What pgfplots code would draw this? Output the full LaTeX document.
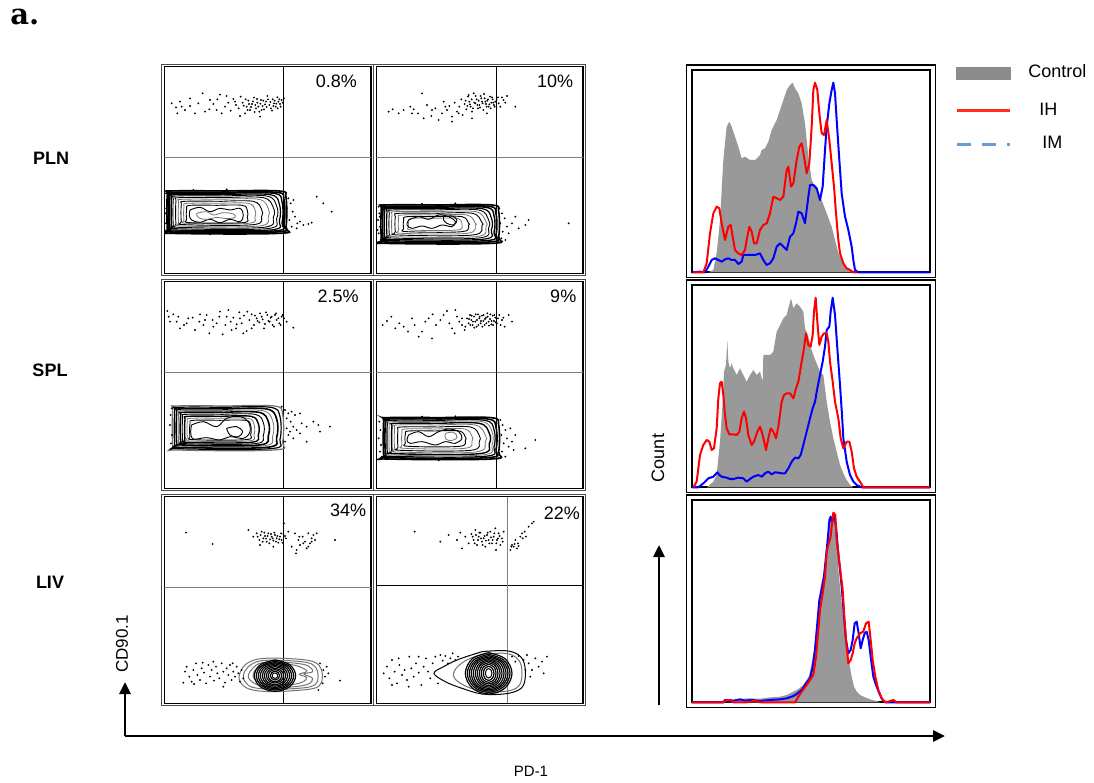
\documentclass[border=0pt]{standalone}
\usepackage{fontspec}
\setmainfont{Liberation Sans}
\newfontfamily\dvserif{DejaVu Serif}
\usepackage{pgfplots}
\pgfplotsset{compat=1.18}
\usetikzlibrary{arrows.meta}
\definecolor{ctrlgray}{HTML}{999999}
\definecolor{leggray}{HTML}{8C8C8C}
\definecolor{legblue}{HTML}{6C9BD2}
\definecolor{legred}{HTML}{FF2D1F}
\pgfplotsset{
 flow/.style={scale only axis, width=103.33pt, height=103.33pt, xmin=13, xmax=633, ymin=20, ymax=640, y dir=reverse, ticks=none, axis line style={line width=0.6pt}, clip=true},
 hist/.style={scale only axis, width=119.17pt, height=101.17pt, xmin=35, xmax=750, ymin=30, ymax=637, y dir=reverse, ticks=none, axis line style={line width=1pt}, clip=false},
 ct/.style={smooth, tension=0.6, line width=0.45pt, black, mark=none},
 ctg/.style={smooth, tension=0.6, line width=0.4pt, black!55, mark=none},
 dots/.style={only marks, mark=*, mark size=0.24pt, mark options={draw=none, fill=black!75}},
 gate/.style={line width=0.45pt, mark=none},
}
\tikzset{pct/.style={anchor=north east, inner sep=0pt, font=\fontsize{9}{10}\selectfont}}
\begin{document}
\begin{tikzpicture}
\path (0,0) rectangle (547pt,-391pt);
%================ PLN col 1
\begin{axis}[flow, at={(133.83pt,-85pt)}, anchor=center]
\addplot[gate, black!50] coordinates {(13,293) (633,293)};
\addplot[gate, black] coordinates {(370,20) (370,640)};
\addplot[dots] coordinates {(35,130) (48,142) (60,125) (75,150) (90,138) (105,160) (128,100) (135,155) (148,148) (160,132) (172,118) (180,104) (185,160) (195,140) (205,128) (212,152) (220,117) (228,135) (236,145) (242,110) (248,128) (255,160) (260,140) (265,122) (270,150) (276,132) (282,113) (288,145) (292,128) (298,155) (303,120) (308,138) (312,148) (318,125) (322,108) (328,135) (333,145) (338,118) (342,130) (347,140) (352,112) (355,125) (360,132) (365,120) (372,115) (240,168) (300,170) (200,108) (115,130) (52,160)
(251,137) (257,118) (263,150) (267,132) (273,141) (279,124) (284,156) (286,135) (291,117) (295,140) (301,131) (305,150) (310,122) (315,133) (320,141) (324,118) (331,126) (336,152) (340,138) (344,122) (349,131) (353,145) (358,118) (362,140) (368,128) (150,120) (90,115) (65,140) (170,150) (225,125)
(18,400) (20,420) (19,445) (22,470) (18,490) (24,505) (21,515) (25,430) (16,460) (23,480) (378,400) (385,415) (392,430) (380,445) (398,455) (405,470) (388,480) (412,490) (395,500) (420,485) (430,495) (445,492) (455,488) (382,510) (400,420) (470,410) (490,430) (515,455) (375,515) (410,505) (100,390) (200,388) (300,392) (150,523) (250,522) (340,520)};
\addplot[ct, line width=0.8pt] coordinates {(200,393) (358,393) (378,413) (378,500) (358,520) (32,520) (22,510) (22,403) (32,393) (200,393)};
\addplot[ct, line width=0.8pt] coordinates {(199,397) (350,397) (372,419) (372,494) (350,516) (36,516) (26,506) (26,407) (36,397) (199,397)};
\addplot[ct, line width=0.7pt] coordinates {(198,400) (341,400) (366,425) (366,488) (341,513) (40,513) (30,503) (30,410) (40,400) (198,400)};
\addplot[ct, line width=0.6pt] coordinates {(196,404) (330,404) (358,432) (358,482) (330,510) (45,510) (35,500) (35,414) (45,404) (196,404)};
\addplot[ct] coordinates {(195,408) (320,408) (350,438) (350,476) (320,506) (50,506) (40,496) (40,418) (50,408) (195,408)};
\addplot[ct] coordinates {(194,413) (310,413) (340,443) (340,472) (310,502) (58,502) (48,492) (48,423) (58,413) (194,413)};
\addplot[ctg] coordinates {(190,418) (297,418) (325,446) (325,470) (297,498) (66,498) (56,488) (56,428) (66,418) (190,418)};
\addplot[ct] coordinates {(185,424) (280,424) (305,449) (305,469) (280,494) (74,494) (64,484) (64,434) (74,424) (185,424)};
\addplot[ctg] coordinates {(178,430) (265,430) (285,450) (285,470) (265,490) (82,490) (72,480) (72,440) (82,430) (178,430)};
\addplot[ct] coordinates {(171,436) (247,436) (262,451) (262,473) (247,488) (90,488) (80,478) (80,446) (90,436) (171,436)};
\addplot[ct] coordinates {(90,450) (120,442) (150,455) (180,445) (210,450) (240,445) (250,465) (240,485) (210,478) (180,488) (150,478) (120,487) (95,480) (88,465) (90,450)};
\addplot[ctg] coordinates {(110,460) (140,455) (160,465) (190,458) (220,462) (225,472) (200,476) (170,472) (140,478) (115,473) (110,460)};
\node[pct] at (axis cs:592,45) {0.8\%};
\end{axis}
%================ PLN col 2
\begin{axis}[flow, at={(239.83pt,-85pt)}, anchor=center]
\addplot[gate, black!50] coordinates {(13,293) (633,293)};
\addplot[gate, black] coordinates {(372,20) (372,640)};
\addplot[dots] coordinates {(50,155) (62,148) (80,160) (95,150) (115,140) (125,148) (138,160) (150,100) (155,175) (165,135) (178,168) (190,145) (200,180) (210,160) (215,125) (225,150) (232,138) (240,170) (248,128) (255,155) (262,140) (268,118) (272,165) (278,132) (283,148) (288,110) (292,125) (296,140) (300,155) (305,100) (310,130) (314,118) (318,145) (322,135) (326,108) (330,125) (334,150) (338,115) (342,132) (346,122) (350,140) (354,110) (358,128) (362,118) (366,135) (370,125) (378,112) (385,140) (395,120) (405,108) (430,140) (300,175) (345,160) (240,185)
(281,122) (286,138) (290,105) (294,133) (299,118) (303,145) (307,128) (311,108) (316,135) (320,122) (324,142) (328,115) (332,130) (336,102) (340,125) (344,140) (348,118) (352,133) (356,145) (360,112) (364,128) (368,140) (374,120) (380,130) (390,112) (400,128) (260,160) (220,140) (180,150) (120,160)
(20,440) (22,460) (18,480) (24,500) (20,520) (26,540) (17,510) (23,470) (382,445) (390,460) (398,475) (385,490) (405,500) (392,515) (410,520) (420,490) (440,505) (430,470) (388,535) (400,540) (460,495) (470,480) (590,490) (380,545) (150,432) (250,430) (200,553) (300,550)};
\addplot[ct, line width=0.8pt] coordinates {(204,435) (360,435) (380,455) (380,530) (360,550) (38,550) (28,540) (28,445) (38,435) (204,435)};
\addplot[ct, line width=0.8pt] coordinates {(202,439) (350,439) (372,461) (372,524) (350,546) (43,546) (33,536) (33,449) (43,439) (202,439)};
\addplot[ct, line width=0.7pt] coordinates {(202,442) (341,442) (366,467) (366,517) (341,542) (48,542) (38,532) (38,452) (48,442) (202,442)};
\addplot[ct, line width=0.6pt] coordinates {(201,446) (330,446) (358,474) (358,510) (330,538) (55,538) (45,528) (45,456) (55,446) (201,446)};
\addplot[ct] coordinates {(201,450) (320,450) (350,480) (350,504) (320,534) (62,534) (52,524) (52,460) (62,450) (201,450)};
\addplot[ctg] coordinates {(201,455) (312,455) (342,485) (342,500) (312,530) (70,530) (60,520) (60,465) (70,455) (201,455)};
\addplot[ct] coordinates {(200,460) (302,460) (330,488) (330,497) (302,525) (80,525) (70,515) (70,470) (80,460) (200,460)};
\addplot[ctg] coordinates {(195,465) (285,465) (310,490) (310,495) (285,520) (90,520) (80,510) (80,475) (90,465) (195,465)};
\addplot[ct] coordinates {(192,470) (270,470) (290,490) (290,495) (270,515) (105,515) (95,505) (95,480) (105,470) (192,470)};
\addplot[ctg] coordinates {(190,475) (255,475) (270,490) (270,495) (255,510) (120,510) (110,500) (110,485) (120,475) (190,475)};
\addplot[ct] coordinates {(110,480) (140,470) (170,478) (200,465) (230,470) (250,485) (240,500) (210,495) (180,505) (150,498) (120,505) (105,495) (110,480)};
\addplot[ct] coordinates {(215,470) (240,468) (255,480) (245,495) (225,490) (215,480) (215,470)};
\node[pct] at (axis cs:605,45) {10\%};
\end{axis}
%================ SPL col 1
\begin{axis}[flow, at={(133.83pt,-192.5pt)}, anchor=center]
\addplot[gate, black!50] coordinates {(13,293) (633,293)};
\addplot[gate, black] coordinates {(370,20) (370,640)};
\addplot[dots] coordinates {(22,108) (30,140) (40,118) (55,125) (60,160) (72,150) (85,130) (98,128) (105,165) (118,140) (130,150) (140,120) (148,175) (158,135) (170,145) (178,125) (188,178) (196,150) (205,105) (212,140) (220,128) (228,160) (238,112) (245,145) (252,122) (260,168) (268,135) (275,118) (282,150) (290,130) (298,142) (305,125) (312,160) (318,112) (325,138) (332,128) (338,150) (345,120) (350,135) (358,145) (365,125) (372,130) (380,140) (400,158) (250,175) (180,110)
(285,122) (293,138) (300,115) (308,133) (315,147) (322,120) (329,140) (335,125) (342,155) (348,115) (355,130) (362,150) (368,120) (240,130) (230,148) (200,125) (160,155) (120,118) (80,145) (50,140) (26,125) (262,110) (275,160) (215,165) (135,135)
(35,400) (32,420) (30,450) (36,480) (33,505) (40,515) (365,395) (375,405) (385,415) (395,410) (405,420) (420,415) (380,430) (392,440) (400,455) (380,460) (410,465) (425,445) (440,455) (460,440) (475,450) (480,470) (510,455) (385,480) (400,490) (420,475) (440,500) (375,500) (390,470)};
\addplot[ctg, line width=0.6pt] coordinates {(203,393) (343,393) (368,418) (368,500) (343,525) (48,525) (38,515) (38,403) (48,393) (203,393)};
\addplot[ct, line width=0.6pt] coordinates {(202,397) (332,397) (360,425) (360,493) (332,521) (54,521) (44,511) (44,407) (54,397) (202,397)};
\addplot[ct, line width=0.8pt] coordinates {(200,402) (320,402) (350,432) (350,487) (320,517) (60,517) (50,507) (50,412) (60,402) (200,402)};
\addplot[ctg] coordinates {(197,407) (308,407) (338,437) (338,483) (308,513) (66,513) (56,503) (56,417) (66,407) (197,407)};
\addplot[ct, line width=0.8pt] coordinates {(193,412) (297,412) (325,440) (325,482) (297,510) (72,510) (62,500) (62,422) (72,412) (193,412)};
\addplot[ct] coordinates {(189,418) (285,418) (310,443) (310,481) (285,506) (78,506) (68,496) (68,428) (78,418) (189,418)};
\addplot[ct, line width=0.7pt] coordinates {(185,424) (273,424) (295,446) (295,480) (273,502) (85,502) (75,492) (75,434) (85,424) (185,424)};
\addplot[ctg] coordinates {(182,430) (264,430) (282,448) (282,480) (264,498) (92,498) (82,488) (82,440) (92,430) (182,430)};
\addplot[ct] coordinates {(181,436) (257,436) (272,451) (272,479) (257,494) (100,494) (90,484) (90,446) (100,436) (181,436)};
\addplot[ct] coordinates {(95,450) (130,440) (170,455) (200,430) (240,425) (265,440) (270,470) (250,490) (210,485) (180,495) (140,488) (100,492) (92,470) (95,450)};
\addplot[ct] coordinates {(200,460) (230,455) (248,470) (235,485) (210,480) (200,460)};
\node[pct] at (axis cs:597,45) {2.5\%};
\end{axis}
%================ SPL col 2
\begin{axis}[flow, at={(239.83pt,-192.5pt)}, anchor=center]
\addplot[gate, black!50] coordinates {(13,293) (633,293)};
\addplot[gate, black] coordinates {(373,20) (373,640)};
\addplot[dots] coordinates {(32,150) (45,138) (58,125) (70,160) (82,145) (95,155) (108,170) (120,130) (128,150) (140,185) (150,170) (160,140) (170,130) (182,118) (192,150) (205,135) (215,120) (225,108) (232,145) (240,160) (248,175) (255,125) (262,140) (270,150) (278,165) (285,130) (290,145) (294,120) (298,135) (302,150) (306,125) (310,140) (314,155) (318,118) (322,130) (326,145) (330,122) (334,138) (338,150) (342,128) (346,115) (350,140) (354,132) (358,148) (362,122) (366,138) (370,128) (375,145) (382,120) (390,135) (398,155) (410,120) (420,140) (250,105) (180,190)
(291,132) (295,150) (299,122) (303,140) (307,158) (311,118) (315,135) (319,150) (323,125) (327,138) (331,155) (335,120) (339,132) (343,145) (347,125) (351,152) (355,118) (359,138) (363,150) (367,120) (371,142) (378,130) (386,150) (394,128) (280,155) (270,130)
(22,440) (25,465) (20,490) (27,510) (24,530) (30,545) (385,435) (392,450) (400,465) (388,480) (405,490) (395,505) (410,515) (420,500) (430,480) (415,460) (390,530) (400,545) (380,550) (460,520) (490,495) (425,525) (150,425) (250,424) (200,556) (300,553)};
\addplot[ct, line width=0.8pt] coordinates {(207,428) (358,428) (380,450) (380,530) (358,552) (45,552) (35,542) (35,438) (45,428) (207,428)};
\addplot[ct, line width=0.8pt] coordinates {(206,432) (347,432) (372,457) (372,523) (347,548) (50,548) (40,538) (40,442) (50,432) (206,432)};
\addplot[ct, line width=0.6pt] coordinates {(206,436) (338,436) (366,464) (366,516) (338,544) (56,544) (46,534) (46,446) (56,436) (206,436)};
\addplot[ctg] coordinates {(206,440) (330,440) (360,470) (360,510) (330,540) (62,540) (52,530) (52,450) (62,440) (206,440)};
\addplot[ct, line width=0.7pt] coordinates {(206,445) (322,445) (352,475) (352,506) (322,536) (70,536) (60,526) (60,455) (70,445) (206,445)};
\addplot[ctg] coordinates {(204,450) (310,450) (340,480) (340,501) (310,531) (78,531) (68,521) (68,460) (78,450) (204,450)};
\addplot[ct] coordinates {(200,456) (296,456) (322,482) (322,500) (296,526) (88,526) (78,516) (78,466) (88,456) (200,456)};
\addplot[ctg] coordinates {(195,462) (278,462) (300,484) (300,498) (278,520) (100,520) (90,510) (90,472) (100,462) (195,462)};
\addplot[ct] coordinates {(190,468) (262,468) (280,486) (280,496) (262,514) (110,514) (100,504) (100,478) (110,468) (190,468)};
\addplot[ct] coordinates {(110,480) (140,470) (170,485) (200,470) (230,462) (260,470) (270,490) (250,505) (220,500) (190,510) (150,500) (115,505) (105,495) (110,480)};
\addplot[ctg] coordinates {(220,475) (245,472) (255,488) (235,497) (220,490) (220,475)};
\node[pct] at (axis cs:614,45) {9\%};
\end{axis}
%================ LIV col 1
\begin{axis}[flow, at={(133.83pt,-300pt)}, anchor=center]
\addplot[gate, black!50] coordinates {(13,292) (633,292)};
\addplot[gate, black] coordinates {(370,20) (370,640)};
\addplot[dots] coordinates {(78,128) (158,162) (265,120) (280,140) (290,130) (298,150) (305,125) (310,145) (315,138) (320,155) (325,130) (330,148) (335,140) (340,152) (345,135) (350,145) (355,158) (360,140) (365,150) (370,132) (372,100) (378,145) (385,125) (395,170) (405,130) (410,180) (415,150) (420,165) (428,140) (435,155) (440,175) (445,130) (450,160) (455,145) (460,135) (465,150) (470,130) (408,190) (525,150) (300,165) (340,170)
(293,140) (302,135) (308,155) (313,128) (318,146) (323,138) (328,160) (333,132) (338,145) (343,128) (348,155) (352,138) (358,148) (363,130) (368,158) (375,138) (430,160) (445,170) (455,155) (418,140)
(75,545) (80,530) (88,560) (95,575) (100,540) (108,520) (112,555) (120,570) (125,535) (132,548) (138,580) (145,525) (150,560) (155,540) (162,572) (168,530) (172,550) (178,565) (185,520) (190,545) (195,578) (200,535) (205,555) (210,525) (215,570) (220,545) (225,560) (230,530) (235,550) (240,575) (245,540) (218,520) (128,518) (102,582) (190,590) (70,578) (160,515) (250,565)
(480,520) (490,540) (495,560) (488,580) (500,530) (505,550) (540,572) (475,600)};
\addplot[ctg, line width=0.5pt] coordinates {(340,504) (420,508) (465,517) (485,540) (484,578) (462,595) (400,602) (330,605) (270,598) (242,578) (238,555) (255,525) (290,508) (340,504)};
\addplot[ctg, line width=0.5pt] coordinates {(340,510) (415,514) (455,522) (472,542) (472,575) (452,590) (400,596) (335,598) (278,592) (255,575) (250,555) (265,530) (295,514) (340,510)};
\addplot[ctg, line width=0.5pt] coordinates {(345,515) (410,520) (445,528) (458,545) (432,552) (458,565) (445,582) (405,590) (345,592) (295,585) (270,570) (265,555) (278,535) (300,520) (345,515)};
\addplot[ctg, line width=0.5pt] coordinates {(345,520) (400,525) (430,535) (440,545) (418,553) (440,562) (430,575) (400,583) (345,585) (300,578) (282,565) (280,552) (290,535) (310,525) (345,520)};
\addplot[ct, line width=0.6pt] coordinates {(345,510) (389,524) (407,557) (389,590) (345,604) (301,590) (283,557) (301,524) (345,510)};
\addplot[ct, line width=0.6pt] coordinates {(345,514) (385,527) (401,557) (385,587) (345,600) (305,587) (289,557) (305,527) (345,514)};
\addplot[ct, line width=0.6pt] coordinates {(345,518) (380,529) (395,557) (380,585) (345,596) (310,585) (295,557) (310,529) (345,518)};
\addplot[ct, line width=0.6pt] coordinates {(345,522) (376,532) (389,557) (376,582) (345,592) (314,582) (301,557) (314,532) (345,522)};
\addplot[ct, line width=0.6pt] coordinates {(345,526) (372,535) (383,557) (372,579) (345,588) (318,579) (307,557) (318,535) (345,526)};
\addplot[ct, line width=0.6pt] coordinates {(345,530) (368,538) (377,557) (368,576) (345,584) (322,576) (313,557) (322,538) (345,530)};
\addplot[ct, line width=0.6pt] coordinates {(345,535) (363,541) (371,557) (363,573) (345,579) (327,573) (319,557) (327,541) (345,535)};
\addplot[ct, line width=0.6pt] coordinates {(345,539) (359,544) (365,557) (359,570) (345,575) (331,570) (325,557) (331,544) (345,539)};
\addplot[ct, line width=0.6pt] coordinates {(345,544) (355,548) (359,557) (355,566) (345,570) (335,566) (331,557) (335,548) (345,544)};
\addplot[ct, line width=0.5pt] coordinates {(345,549) (351,551) (353,557) (351,563) (345,565) (339,563) (337,557) (339,551) (345,549)};
\node[pct] at (axis cs:620,42) {34\%};
\end{axis}
%================ LIV col 2
\begin{axis}[flow, at={(239.83pt,-300pt)}, anchor=center]
\addplot[gate, black] coordinates {(13,287) (633,287)};
\addplot[gate, black!50] coordinates {(405,20) (405,640)};
\addplot[dots] coordinates {(128,125) (205,155) (230,135) (255,150) (265,128) (270,175) (280,140) (290,160) (298,132) (305,150) (310,120) (315,165) (320,140) (325,128) (330,155) (335,145) (340,170) (345,135) (350,150) (355,125) (360,160) (365,140) (370,115) (375,150) (380,130) (385,165) (390,145) (395,125) (415,180) (420,165) (425,170) (430,150) (438,160) (445,140) (450,130) (458,125) (462,140) (470,110) (480,100) (485,95) (435,175) (372,180)
(302,140) (308,160) (312,135) (318,150) (322,128) (327,145) (332,165) (338,138) (342,152) (347,128) (352,160) (357,142) (362,150) (367,130) (373,160) (378,145) (383,138) (392,155) (418,170) (428,162) (440,168) (452,145)
(35,550) (45,530) (52,565) (60,510) (68,545) (75,580) (82,525) (90,555) (98,540) (105,570) (112,500) (118,535) (125,560) (132,520) (140,548) (148,585) (155,530) (162,505) (168,545) (175,565) (182,520) (190,500) (198,580) (205,495) (212,512) (220,498) (228,520) (235,505) (242,490) (250,510) (258,500) (60,585) (110,590) (80,505) (140,500)
(420,500) (430,515) (440,498) (455,510) (465,495) (470,520) (480,540) (490,505) (500,530) (510,515) (515,550) (525,500) (475,560) (460,540)};
\addplot[ct, line width=0.5pt] coordinates {(330,485) (400,482) (440,495) (458,525) (458,575) (440,600) (395,612) (330,612) (270,595) (220,575) (186,550) (215,530) (260,508) (330,485)};
\addplot[ctg, line width=0.5pt] coordinates {(340,492) (400,490) (432,502) (448,528) (448,572) (432,595) (392,605) (335,605) (285,590) (250,568) (245,548) (262,525) (295,505) (340,492)};
\addplot[ct, line width=0.6pt] coordinates {(350,488) (399,506) (420,550) (399,594) (350,612) (301,594) (280,550) (301,506) (350,488)};
\addplot[ct, line width=0.6pt] coordinates {(350,493) (395,510) (414,550) (395,590) (350,607) (305,590) (286,550) (305,510) (350,493)};
\addplot[ct, line width=0.6pt] coordinates {(350,497) (391,513) (408,550) (391,587) (350,603) (309,587) (292,550) (309,513) (350,497)};
\addplot[ct, line width=0.6pt] coordinates {(350,501) (387,515) (402,550) (387,585) (350,599) (313,585) (298,550) (313,515) (350,501)};
\addplot[ct, line width=0.6pt] coordinates {(350,505) (383,518) (396,550) (383,582) (350,595) (317,582) (304,550) (317,518) (350,505)};
\addplot[ct, line width=0.6pt] coordinates {(350,509) (378,521) (390,550) (378,579) (350,591) (322,579) (310,550) (322,521) (350,509)};
\addplot[ct, line width=0.6pt] coordinates {(350,513) (374,524) (384,550) (374,576) (350,587) (326,576) (316,550) (326,524) (350,513)};
\addplot[ct, line width=0.6pt] coordinates {(350,518) (370,527) (378,550) (370,573) (350,582) (330,573) (322,550) (330,527) (350,518)};
\addplot[ct, line width=0.6pt] coordinates {(350,523) (366,531) (372,550) (366,569) (350,577) (334,569) (328,550) (334,531) (350,523)};
\addplot[ct, line width=0.6pt] coordinates {(350,529) (361,535) (366,550) (361,565) (350,571) (339,565) (334,550) (339,535) (350,529)};
\addplot[ct, line width=0.5pt] coordinates {(350,536) (357,540) (360,550) (357,560) (350,564) (343,560) (340,550) (343,540) (350,536)};
\node[pct] at (axis cs:625,50) {22\%};
\end{axis}
%================ Histogram PLN
\begin{axis}[hist, at={(405.42pt,-85.58pt)}, anchor=center]
\addplot[fill=ctrlgray, draw=none] coordinates {(85,637) (100,630) (110,580) (120,480) (130,300) (140,200) (148,185) (155,200) (165,230) (175,260) (185,295) (195,290) (210,300) (225,300) (240,285) (245,270) (255,265) (265,245) (275,210) (290,180) (300,150) (310,120) (320,90) (330,75) (338,68) (345,85) (355,100) (365,130) (375,190) (385,290) (395,360) (410,390) (425,420) (440,460) (455,500) (465,540) (475,580) (485,600) (495,615) (505,630) (515,637)};
\addplot[blue, line width=1pt, line join=round] coordinates {(35,637) (60,635) (75,637) (85,620) (95,600) (105,595) (115,600) (125,605) (135,598) (145,595) (155,600) (165,600) (175,612) (185,605) (190,585) (200,585) (225,585) (240,580) (250,600) (260,615) (270,610) (280,595) (290,560) (300,550) (310,560) (320,570) (330,530) (340,520) (348,490) (355,455) (365,460) (375,490) (385,410) (390,375) (400,375) (410,385) (420,420) (428,380) (435,270) (440,200) (448,130) (455,90) (460,68) (465,100) (470,180) (478,300) (485,400) (495,470) (505,510) (515,560) (520,600) (525,630) (535,637) (560,637) (750,637)};
\addplot[red, line width=1pt, line join=round] coordinates {(40,637) (70,637) (80,610) (90,520) (100,460) (110,440) (118,445) (125,490) (135,540) (145,500) (152,495) (158,530) (165,570) (175,580) (185,585) (195,570) (200,540) (208,500) (215,515) (222,550) (230,550) (240,510) (250,495) (260,490) (270,460) (280,410) (290,415) (300,420) (310,410) (320,330) (325,320) (333,380) (340,370) (350,300) (358,260) (365,250) (372,290) (380,340) (388,310) (395,200) (400,90) (405,68) (412,90) (418,160) (425,220) (432,225) (440,180) (448,240) (455,310) (462,380) (468,460) (475,540) (480,580) (490,610) (500,625) (510,630) (520,637) (530,637)};
\end{axis}
%================ Histogram SPL
\begin{axis}[hist, at={(405.42pt,-193.08pt)}, anchor=center]
\addplot[fill=ctrlgray, draw=none] coordinates {(80,637) (100,620) (110,600) (120,500) (128,380) (132,290) (138,270) (142,195) (145,260) (150,280) (155,265) (160,280) (170,300) (180,280) (190,300) (200,320) (210,300) (220,285) (230,300) (240,290) (248,320) (250,240) (260,240) (270,240) (280,230) (290,170) (300,150) (310,130) (320,120) (325,100) (333,70) (340,100) (350,85) (360,95) (370,110) (375,160) (385,185) (395,225) (400,240) (410,265) (420,290) (430,300) (440,380) (450,440) (460,490) (470,530) (480,570) (490,595) (500,615) (510,630) (520,637)};
\addplot[blue, line width=1pt, line join=round] coordinates {(35,637) (55,637) (70,625) (85,610) (100,605) (112,592) (118,600) (125,605) (140,608) (150,612) (160,612) (175,608) (190,610) (200,620) (210,612) (220,605) (235,600) (245,605) (255,595) (265,590) (275,598) (285,592) (295,593) (305,595) (315,595) (325,580) (335,560) (345,548) (355,550) (362,540) (370,510) (380,470) (390,430) (398,400) (405,380) (412,340) (420,300) (428,260) (435,215) (440,165) (448,155) (452,110) (458,68) (465,120) (472,220) (480,330) (486,420) (490,490) (500,560) (510,600) (520,620) (530,630) (545,637) (750,637)};
\addplot[red, line width=1pt, line join=round] coordinates {(40,637) (50,620) (60,540) (70,510) (80,495) (88,500) (95,525) (102,520) (110,460) (115,370) (120,325) (125,320) (130,360) (135,420) (140,460) (148,478) (160,478) (170,480) (178,470) (185,430) (192,410) (198,430) (205,480) (215,510) (222,500) (232,470) (240,455) (248,480) (258,525) (265,490) (272,460) (280,470) (288,490) (295,455) (305,380) (312,360) (320,355) (330,355) (340,370) (348,340) (355,320) (365,260) (372,220) (378,175) (385,210) (392,215) (398,180) (402,110) (407,68) (412,140) (418,210) (425,185) (432,175) (440,175) (445,200) (450,260) (458,320) (465,380) (475,430) (482,490) (490,520) (500,500) (508,500) (515,530) (522,580) (530,605) (540,620) (550,637) (750,637)};
\end{axis}
%================ Histogram LIV
\begin{axis}[hist, at={(405.42pt,-300.58pt)}, anchor=center]
\addplot[fill=ctrlgray, draw=none] coordinates {(35,637) (150,637) (170,628) (200,625) (240,626) (270,622) (300,620) (320,615) (340,605) (355,597) (370,585) (380,570) (388,555) (395,520) (402,480) (408,420) (415,350) (420,300) (428,260) (435,220) (442,170) (448,110) (455,80) (460,68) (466,90) (470,150) (476,250) (484,330) (492,400) (500,460) (508,520) (515,560) (522,590) (530,605) (540,615) (555,622) (570,628) (590,633) (600,637)};
\addplot[blue, line width=1pt, line join=round] coordinates {(35,637) (130,637) (135,630) (155,633) (180,628) (195,632) (215,630) (240,633) (270,630) (300,628) (320,625) (340,618) (350,612) (365,600) (378,580) (390,565) (398,530) (405,480) (412,400) (418,330) (425,300) (432,260) (438,200) (444,140) (448,90) (452,80) (456,100) (462,70) (468,110) (474,180) (480,240) (486,300) (492,380) (498,450) (505,490) (512,480) (518,450) (524,400) (530,395) (536,430) (542,475) (548,450) (554,430) (560,425) (566,450) (572,500) (580,560) (590,590) (600,615) (608,630) (618,637) (750,637)};
\addplot[red, line width=1pt, line join=round] coordinates {(35,637) (130,637) (140,630) (155,630) (160,637) (200,637) (225,632) (240,637) (300,637) (345,637) (355,620) (365,605) (380,585) (390,570) (400,555) (408,500) (415,420) (420,360) (428,310) (435,260) (440,185) (445,165) (452,140) (456,100) (460,68) (466,75) (470,150) (476,200) (482,250) (488,300) (493,380) (498,450) (505,520) (512,510) (518,490) (524,460) (530,445) (540,430) (550,425) (558,400) (566,395) (572,450) (578,510) (586,560) (595,600) (605,625) (615,637) (625,635) (640,630) (650,637) (750,637)};
\end{axis}
%================ outer frames
\foreach \cx/\cy in {133.83/-85, 239.83/-85, 133.83/-192.5, 239.83/-192.5, 133.83/-300, 239.83/-300}{
  \draw[black!70, line width=0.5pt] ({(\cx-52.9)*1pt},{(\cy+52.9)*1pt}) rectangle ({(\cx+52.9)*1pt},{(\cy-52.9)*1pt});
}
\foreach \cy in {-85.58, -193.08, -300.58}{
  \draw[black, line width=0.7pt] ({(405.42-62.3)*1pt},{(\cy+53.1)*1pt}) rectangle ({(405.42+62.3)*1pt},{(\cy-53.1)*1pt});
}
%================ labels
\node[anchor=base west, inner sep=0pt, font=\dvserif\bfseries\fontsize{14.5}{16}\selectfont] at (5pt,-12.5pt) {a.};
\node[font=\bfseries\fontsize{9}{10}\selectfont] at (25.5pt,-79pt) {PLN};
\node[font=\bfseries\fontsize{9}{10}\selectfont] at (25pt,-185pt) {SPL};
\node[font=\bfseries\fontsize{9}{10}\selectfont] at (25pt,-291pt) {LIV};
\node[rotate=90, font=\fontsize{9}{10}\selectfont] at (329pt,-229pt) {Count};
\node[rotate=90, font=\fontsize{8.5}{10}\selectfont] at (61pt,-322pt) {CD90.1};
\node[font=\fontsize{7.5}{9}\selectfont] at (265.5pt,-385.5pt) {PD-1};
%================ arrows
\draw[line width=1.4pt, -{Triangle[length=6pt,width=5.5pt]}] (62.5pt,-368pt) -- (472.5pt,-368pt);
\draw[line width=1.4pt, -{Triangle[length=6pt,width=5.5pt]}] (62.5pt,-368pt) -- (62.5pt,-341pt);
\draw[line width=1.4pt, -{Triangle[length=6pt,width=5.5pt]}] (329.5pt,-352.5pt) -- (329.5pt,-272.5pt);
%================ legend
\fill[leggray] (478pt,-33.5pt) rectangle (505.5pt,-40pt);
\node[anchor=west, inner sep=0pt, font=\fontsize{9}{10}\selectfont] at (514pt,-35.5pt) {Control};
\draw[legred, line width=1.5pt] (478.5pt,-55.5pt) -- (505pt,-55.5pt);
\node[anchor=west, inner sep=0pt, font=\fontsize{9}{10}\selectfont] at (519.5pt,-54.5pt) {IH};
\draw[legblue, line width=1.5pt, dash pattern=on 7pt off 5.5pt] (478.5pt,-72.5pt) -- (505pt,-72.5pt);
\node[anchor=west, inner sep=0pt, font=\fontsize{9}{10}\selectfont] at (521pt,-71pt) {IM};
\end{tikzpicture}
\end{document}
